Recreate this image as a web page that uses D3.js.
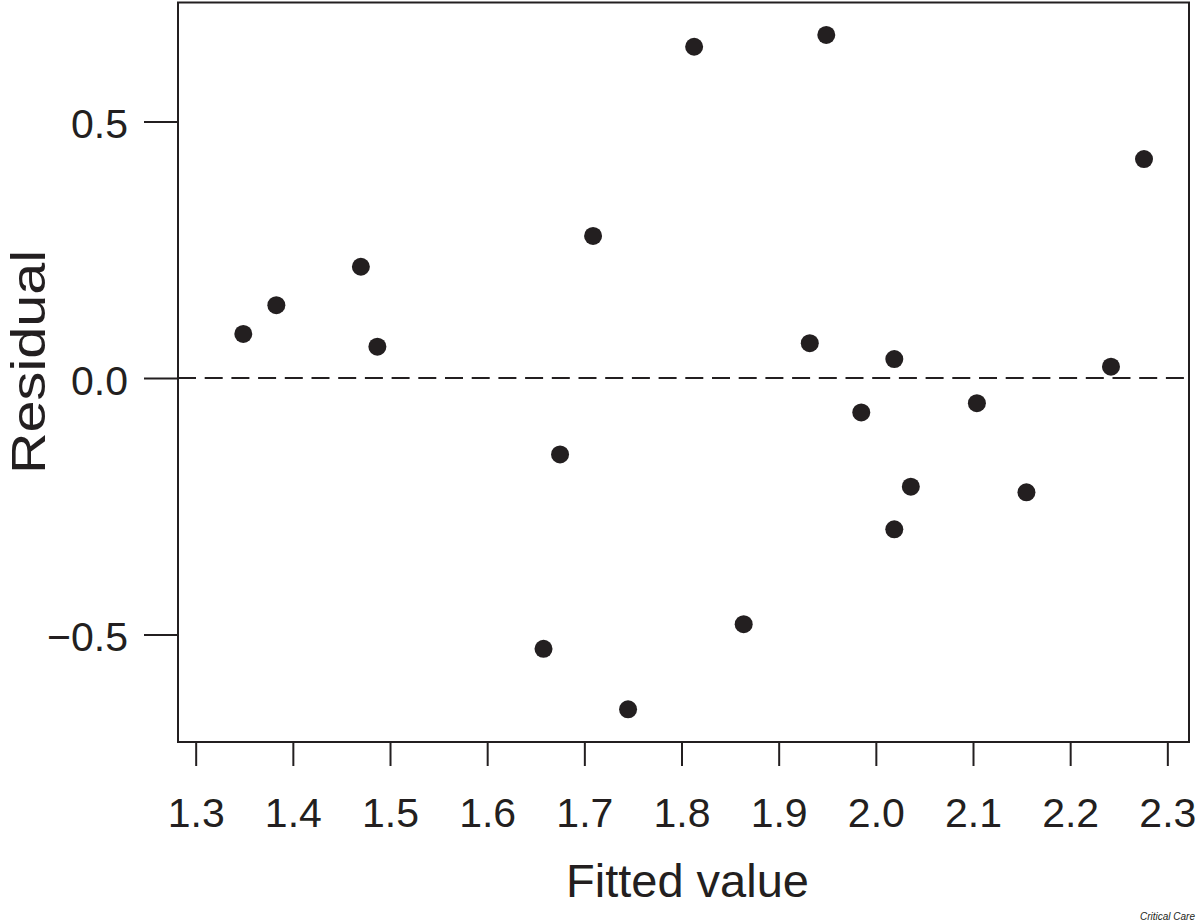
<!DOCTYPE html>
<html>
<head>
<meta charset="utf-8">
<script src="https://cdn.jsdelivr.net/npm/d3@7"></script>
<style>
body { margin: 0; background: #fff; }
svg text { font-family: "Liberation Sans", Arial, Helvetica, sans-serif; fill: #231f20; }
</style>
</head>
<body>
<div id="root"><svg></svg></div>
<script>
// values
const fitted   = [1.349, 1.383, 1.470, 1.487, 1.658, 1.675, 1.709, 1.745, 1.813, 1.864,
                  1.932, 1.949, 1.985, 2.019, 2.019, 2.036, 2.104, 2.155, 2.242, 2.276];
const residual = [0.086, 0.142, 0.217, 0.061, -0.528, -0.149, 0.277, -0.646, 0.646, -0.480,
                  0.068, 0.669, -0.067, 0.037, -0.295, -0.212, -0.049, -0.223, 0.022, 0.427];
const xTicks = [1.3, 1.4, 1.5, 1.6, 1.7, 1.8, 1.9, 2.0, 2.1, 2.2, 2.3];
const yTicks = [-0.5, 0.0, 0.5];
const xTitle = 'Fitted value';
const yTitle = 'Residual';
const credit = 'Critical Care';

const width = 1200, height = 923;
const ink = '#231f20';
const box = {left: 178, right: 1189, top: 2.5, bottom: 742};

const x = d3.scaleLinear().domain([1.2818, 2.3223]).range([box.left, box.right]);
const y = d3.scaleLinear().domain([-0.7098, 0.7323]).range([box.bottom, box.top]);
const fmt = d3.format('.1f');

const svg = d3.select('#root').select('svg')
    .attr('width', width)
    .attr('height', height);

// x axis
const gx = svg.append('g')
    .attr('transform', `translate(0,${box.bottom})`)
    .call(d3.axisBottom(x).tickValues(xTicks).tickSize(24).tickFormat(fmt));
gx.select('.domain').remove();
gx.selectAll('.tick line').attr('stroke', ink).attr('stroke-width', 2);
gx.selectAll('.tick text')
    .attr('y', 85).attr('dy', 0)
    .attr('font-size', 41)
    .attr('fill', ink);

// y axis
const gy = svg.append('g')
    .attr('transform', `translate(${box.left},0)`)
    .call(d3.axisLeft(y).tickValues(yTicks).tickSize(34).tickFormat(fmt));
gy.select('.domain').remove();
gy.selectAll('.tick line').attr('stroke', ink).attr('stroke-width', 2);
gy.selectAll('.tick text')
    .attr('x', -50).attr('dy', 0).attr('y', 16)
    .attr('font-size', 41)
    .attr('fill', ink);

// zero reference line
svg.append('line')
    .attr('x1', box.left).attr('x2', box.right)
    .attr('y1', y(0)).attr('y2', y(0))
    .attr('stroke', ink)
    .attr('stroke-width', 2)
    .attr('stroke-dasharray', '18,8.7');

// points
svg.append('g')
    .selectAll('circle')
    .data(fitted.map((f, i) => ({f, r: residual[i]})))
    .enter()
    .append('circle')
    .attr('cx', d => x(d.f))
    .attr('cy', d => y(d.r))
    .attr('r', 9)
    .attr('fill', ink);

// frame
svg.append('rect')
    .attr('x', box.left).attr('y', box.top)
    .attr('width', box.right - box.left)
    .attr('height', box.bottom - box.top)
    .attr('fill', 'none')
    .attr('stroke', ink)
    .attr('stroke-width', 2);

// titles
svg.append('text')
    .attr('x', (box.left + box.right) / 2 + 4)
    .attr('y', 897)
    .attr('text-anchor', 'middle')
    .attr('font-size', 47)
    .text(xTitle);

// the y title is a bit stretched along its length in the original
svg.append('text')
    .attr('transform', `translate(45,362) scale(1,1.2) rotate(-90)`)
    .attr('text-anchor', 'middle')
    .attr('font-size', 48)
    .text(yTitle);

svg.append('text')
    .attr('x', 1195).attr('y', 920)
    .attr('text-anchor', 'end')
    .attr('font-size', 10)
    .attr('font-style', 'italic')
    .text(credit);
</script>
</body>
</html>
